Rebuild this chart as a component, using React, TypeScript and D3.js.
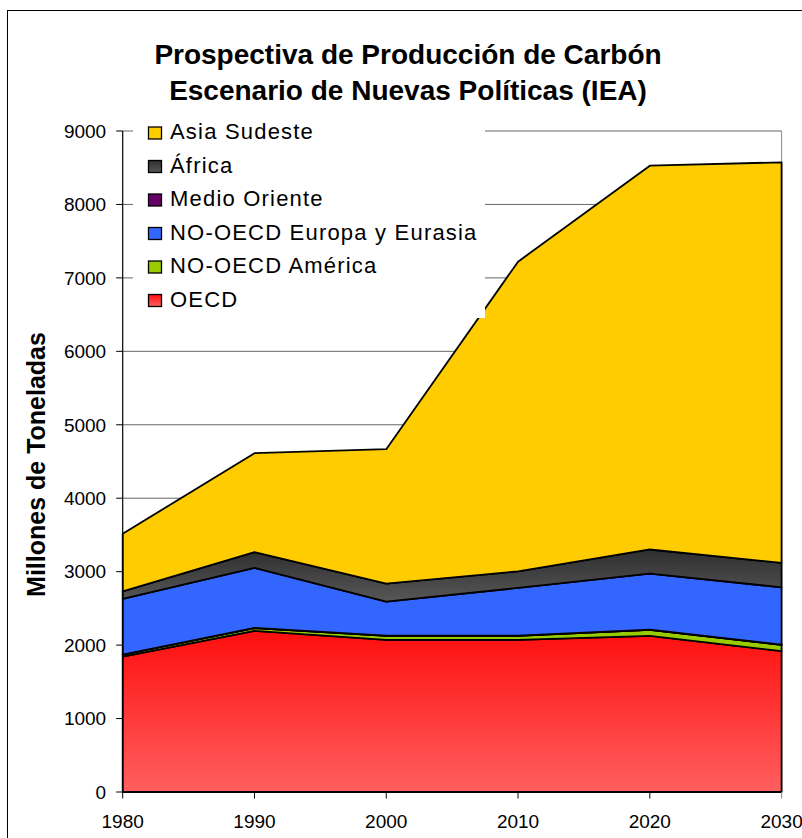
import React from "react";
import * as d3 from "d3";

// Coal production by region, millions of tonnes (IEA New Policies Scenario)
const years = [1980, 1990, 2000, 2010, 2020, 2030];
const oecd = [1844, 2195, 2072, 2072, 2127, 1918];
const noOecdAmerica = [25, 35, 55, 55, 80, 85];
const middleEast = [2, 3, 2, 2, 2, 2];
const noOecdEurasia = [757, 819, 463, 650, 765, 782];
const africa = [104, 213, 245, 226, 328, 333];
const southeastAsia = [784, 1348, 1831, 4216, 5226, 5454];

const yTicks = [0, 1000, 2000, 3000, 4000, 5000, 6000, 7000, 8000, 9000];

const seriesKeys = ["oecd", "america", "middleEast", "eurasia", "africa", "asia"];
const seriesNames: Record<string, string> = {
  oecd: "OECD",
  america: "NO-OECD América",
  middleEast: "Medio Oriente",
  eurasia: "NO-OECD Europa y Eurasia",
  africa: "África",
  asia: "Asia Sudeste",
};
const seriesFill: Record<string, string> = {
  oecd: "url(#gradRed)",
  america: "#99cc00",
  middleEast: "#660066",
  eurasia: "#3366ff",
  africa: "url(#gradGray)",
  asia: "#ffcc00",
};
const legendOrder = ["asia", "africa", "middleEast", "eurasia", "america", "oecd"];

const rows = years.map((year, i) => ({
  year,
  oecd: oecd[i],
  america: noOecdAmerica[i],
  middleEast: middleEast[i],
  eurasia: noOecdEurasia[i],
  africa: africa[i],
  asia: southeastAsia[i],
}));

const FONT = "'Liberation Sans', Arial, Helvetica, sans-serif";

export default function App() {
  const W = 802;
  const H = 838;
  const x = d3.scaleLinear().domain([1980, 2030]).range([122.7, 781.6]);
  const y = d3.scaleLinear().domain([0, 9000]).range([792, 131]);

  const stacked = d3.stack<any>().keys(seriesKeys)(rows);
  const area = d3
    .area<any>()
    .x((d) => x(d.data.year))
    .y0((d) => y(d[0]))
    .y1((d) => y(d[1]));

  const [xl, xr] = x.range();
  const legendTop = 117;
  const legendRow = 33.5;
  const legendBase = 139;

  return (
    <svg
      width={W}
      height={H}
      style={{ position: "absolute", left: 0, top: 0, background: "#fff" }}
      fontFamily={FONT}
    >
      <defs>
        <linearGradient id="gradRed" x1="0" y1="0" x2="0" y2="1">
          <stop offset="0" stopColor="#ff0e0e" />
          <stop offset="1" stopColor="#ff5f5f" />
        </linearGradient>
        <linearGradient id="gradGray" x1="0" y1="0" x2="0" y2="1">
          <stop offset="0" stopColor="#2e2e2e" />
          <stop offset="1" stopColor="#575757" />
        </linearGradient>
      </defs>

      {/* outer chart frame */}
      <rect x={7.5} y={10.5} width={1000} height={1000} fill="#fff" stroke="#000" strokeWidth={1} />

      {/* title */}
      <text x={408} y={63.5} textAnchor="middle" fontSize={28} fontWeight="bold" fill="#000">
        Prospectiva de Producción de Carbón
      </text>
      <text x={408} y={100} textAnchor="middle" fontSize={28} fontWeight="bold" fill="#000">
        Escenario de Nuevas Políticas (IEA)
      </text>

      {/* gridlines */}
      {yTicks.slice(1).map((t) => (
        <line key={"g" + t} x1={xl} x2={xr} y1={y(t)} y2={y(t)} stroke="#666" strokeWidth={1} />
      ))}
      {/* plot right edge */}
      <line x1={xr} x2={xr} y1={y(9000)} y2={y(0)} stroke="#888" strokeWidth={1} />

      {/* stacked areas */}
      {stacked.map((s) => (
        <path
          key={s.key}
          d={area(s) as string}
          fill={seriesFill[s.key]}
          stroke="#000"
          strokeWidth={1.8}
          strokeLinejoin="round"
        />
      ))}

      {/* axes */}
      <line x1={xl} x2={xl} y1={y(9000)} y2={y(0)} stroke="#000" strokeWidth={1.2} />
      <line x1={xl} x2={xr} y1={y(0)} y2={y(0)} stroke="#000" strokeWidth={2} />
      {yTicks.map((t) => (
        <g key={"yt" + t}>
          <line x1={xl - 6.5} x2={xl} y1={y(t)} y2={y(t)} stroke="#000" strokeWidth={1} />
          <text x={xl - 16.5} y={y(t) + 6.8} textAnchor="end" fontSize={19} fill="#000">
            {t}
          </text>
        </g>
      ))}
      {years.map((yr) => (
        <g key={"xt" + yr}>
          <line x1={x(yr)} x2={x(yr)} y1={y(0)} y2={y(0) + 6.5} stroke={yr === 2030 ? "#888" : "#000"} strokeWidth={1} />
          <text x={x(yr)} y={828.3} textAnchor="middle" fontSize={19} fill="#000">
            {yr}
          </text>
        </g>
      ))}

      {/* y axis title */}
      <text
        transform={`translate(45,464.5) rotate(-90)`}
        textAnchor="middle"
        fontSize={25}
        fontWeight="bold"
        fill="#000"
      >
        Millones de Toneladas
      </text>

      {/* legend */}
      <rect x={133} y={legendTop} width={485 - 133} height={318 - legendTop} fill="#fff" />
      {legendOrder.map((k, i) => {
        const base = legendBase + i * legendRow;
        return (
          <g key={"lg" + k}>
            <rect
              x={148.5}
              y={base - 12}
              width={13}
              height={12}
              fill={seriesFill[k]}
              stroke="#000"
              strokeWidth={1.3}
            />
            <text x={170} y={base} fontSize={22} letterSpacing={1.2} fill="#000">
              {seriesNames[k]}
            </text>
          </g>
        );
      })}
    </svg>
  );
}
